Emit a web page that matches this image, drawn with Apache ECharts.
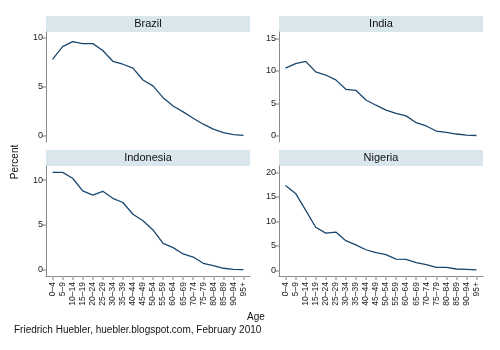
<!DOCTYPE html>
<html>
<head>
<meta charset="utf-8">
<script src="https://cdn.jsdelivr.net/npm/echarts@6/dist/echarts.min.js"></script>
<style>
  html, body { margin: 0; padding: 0; background: #fff; }
  #chart { width: 500px; height: 350px; }
</style>
</head>
<body>
<div id="chart"></div>
<script>
const ageGroups = ['0–4', '5–9', '10–14', '15–19', '20–24', '25–29', '30–34', '35–39', '40–44', '45–49',
  '50–54', '55–59', '60–64', '65–69', '70–74', '75–79', '80–84', '85–89', '90–94', '95+']

const countries = ['Brazil', 'India', 'Indonesia', 'Nigeria']

const brazil = [7.8, 9.1, 9.6, 9.4, 9.4, 8.7, 7.6, 7.3, 6.9, 5.7, 5.1, 3.9, 3.05, 2.45, 1.8, 1.2, 0.7, 0.35, 0.15, 0.07]
const india = [10.4, 11.1, 11.45, 9.85, 9.35, 8.6, 7.15, 7.0, 5.5, 4.7, 3.95, 3.45, 3.05, 2.0, 1.5, 0.72, 0.52, 0.26, 0.1, 0.03]
const indonesia = [10.85, 10.85, 10.2, 8.8, 8.33, 8.75, 7.97, 7.5, 6.2, 5.48, 4.45, 2.96, 2.48, 1.78, 1.44, 0.74, 0.48, 0.19, 0.07, 0.04]
const nigeria = [17.3, 15.7, 12.3, 8.8, 7.6, 7.8, 6.05, 5.2, 4.2, 3.6, 3.2, 2.3, 2.25, 1.55, 1.15, 0.6, 0.6, 0.27, 0.2, 0.07]

const yTicks = [[0, 5, 10], [0, 5, 10, 15], [0, 5, 10], [0, 5, 10, 15, 20]]
const yRanges = [[-0.61, 10.58], [-0.97, 15.98], [-0.67, 11.56], [-1.16, 21.3]]

const seriesValues = [brazil, india, indonesia, nigeria]

const lineColor = '#1a476f'
const axisColor = '#8a8a8a'
const stripColor = '#d9e6eb'
const font = '"Liberation Sans", Arial, Helvetica, sans-serif'

// panel layout: [left, top]
const panels = [[46, 32], [279, 32], [46, 166], [279, 166]]
const panelW = 204
const panelH = 110

const chart = echarts.init(document.getElementById('chart'))

const xIdx = ageGroups.map((_, i) => i)

const option = {
  animation: false,
  backgroundColor: '#fff',
  grid: panels.map(p => ({ left: p[0], top: p[1], width: panelW, height: panelH })),
  xAxis: panels.map((p, i) => {
    const bottom = i >= 2
    return {
      type: 'value',
      gridIndex: i,
      min: -0.65,
      max: 19.65,
      splitLine: { show: false },
      axisLine: { show: bottom, onZero: false, lineStyle: { color: axisColor, width: 1 } },
      axisTick: { show: bottom, customValues: xIdx, length: 4, lineStyle: { color: '#aaa', width: 1.5 } },
      axisLabel: {
        show: bottom,
        customValues: xIdx,
        rotate: 90,
        margin: 6,
        fontSize: 8.5,
        fontFamily: font,
        color: '#222',
        formatter: v => ageGroups[Math.round(v)]
      }
    }
  }),
  yAxis: panels.map((p, i) => ({
    type: 'value',
    gridIndex: i,
    min: yRanges[i][0],
    max: yRanges[i][1],
    splitLine: { show: false },
    axisLine: { show: true, onZero: false, lineStyle: { color: axisColor, width: 1 } },
    axisTick: { show: true, customValues: yTicks[i], length: 4, lineStyle: { color: '#aaa', width: 1.5 } },
    axisLabel: {
      customValues: yTicks[i],
      margin: 3,
      fontSize: 9,
      fontFamily: font,
      color: '#222'
    }
  })),
  series: seriesValues.map((vals, i) => ({
    type: 'line',
    name: countries[i],
    xAxisIndex: i,
    yAxisIndex: i,
    data: vals.map((v, k) => [k, v]),
    showSymbol: false,
    lineStyle: { color: lineColor, width: 1.3 },
    itemStyle: { color: lineColor }
  })),
  graphic: [
    ...panels.map((p, i) => ({
      type: 'group',
      left: p[0],
      top: p[1] - 16,
      children: [
        { type: 'rect', shape: { x: 0, y: 0, width: panelW, height: 16 }, style: { fill: stripColor } },
        {
          type: 'text', x: panelW / 2, y: 8,
          style: { text: countries[i], fill: '#111', font: '11px ' + font, textAlign: 'center', textVerticalAlign: 'middle' }
        }
      ]
    })),
    {
      type: 'text', x: 15, y: 162, rotation: Math.PI / 2,
      style: { text: 'Percent', fill: '#111', font: '10px ' + font, textAlign: 'center', textVerticalAlign: 'middle' }
    },
    {
      type: 'text', x: 256, y: 317,
      style: { text: 'Age', fill: '#111', font: '10px ' + font, textAlign: 'center', textVerticalAlign: 'middle' }
    },
    {
      type: 'text', x: 14, y: 330,
      style: { text: 'Friedrich Huebler, huebler.blogspot.com, February 2010', fill: '#111', font: '10px ' + font, textAlign: 'left', textVerticalAlign: 'middle' }
    }
  ]
}

chart.setOption(option)
</script>
</body>
</html>
